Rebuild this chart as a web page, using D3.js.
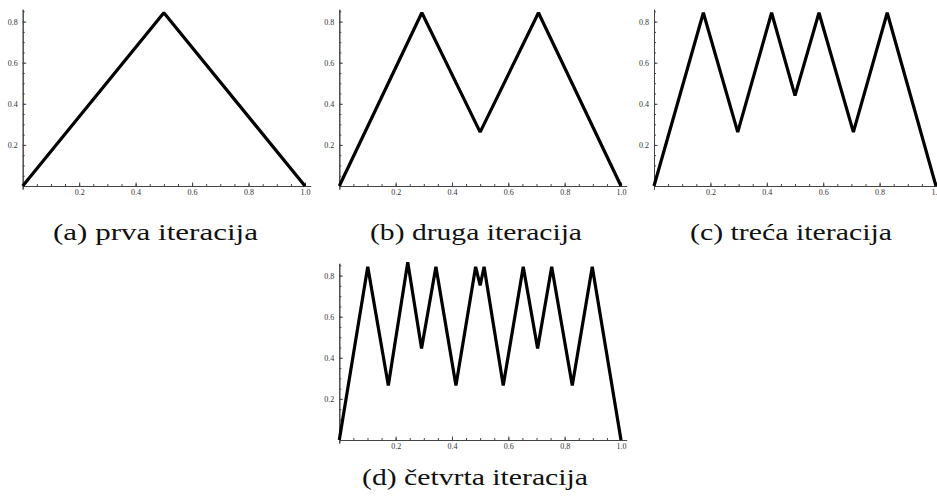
<!DOCTYPE html>
<html>
<head>
<meta charset="utf-8">
<script src="https://cdn.jsdelivr.net/npm/d3@7"></script>
<style>
  body { margin: 0; background: #fff; }
  .tick text { font-family: "Liberation Serif", serif; font-size: 8px; fill: #333; }
  .axis path, .axis line { stroke: #444; }
  .caption { font-family: "Liberation Serif", serif; font-size: 24px; fill: #111; }
</style>
</head>
<body>
<div id="chart"></div>
<script>
// vertices of the curve after each iteration
var iter1X = [0, 0.5, 1];
var iter1Y = [0, 0.843, 0];

var iter2X = [0, 0.293, 0.5, 0.707, 1];
var iter2Y = [0, 0.843, 0.262, 0.843, 0];

var iter3X = [0, 0.175, 0.297, 0.417, 0.5, 0.585, 0.707, 0.827, 1];
var iter3Y = [0, 0.843, 0.262, 0.843, 0.44, 0.843, 0.262, 0.843, 0];

var iter4X = [0, 0.101, 0.174, 0.243, 0.292, 0.343, 0.414, 0.484, 0.5, 0.514,
  0.582, 0.653, 0.704, 0.754, 0.827, 0.898, 1];
var iter4Y = [0, 0.843, 0.265, 0.865, 0.445, 0.843, 0.265, 0.843, 0.752, 0.843,
  0.265, 0.843, 0.445, 0.843, 0.265, 0.843, 0];

var xTicks = [0.2, 0.4, 0.6, 0.8, 1.0];
var yTicks = [0.2, 0.4, 0.6, 0.8];
var captions = ['(a) prva iteracija', '(b) druga iteracija', '(c) treća iteracija', '(d) četvrta iteracija'];

var width = 937,
  height = 504;

var svg = d3.select('#chart').append('svg')
  .attr('width', width)
  .attr('height', height);

// where each small plot sits on the page
var panels = [
  { xs: iter1X, ys: iter1Y, left: 22.7, right: 305, bottom: 186, capX: 155.5, capY: 240, capW: 205 },
  { xs: iter2X, ys: iter2Y, left: 339.3, right: 621, bottom: 186, capX: 476, capY: 240, capW: 212 },
  { xs: iter3X, ys: iter3Y, left: 654, right: 936, bottom: 186, capX: 791, capY: 240, capW: 202 },
  { xs: iter4X, ys: iter4Y, left: 339.3, right: 621, bottom: 440, capX: 475, capY: 485, capW: 226 }
];

var yUnit = 205.5;
var fmt = d3.format('.1f');

panels.forEach(function(p, i) {
  var w = p.right - p.left;
  var x = d3.scaleLinear().domain([0, 1.02]).range([p.left, p.left + 1.02 * w]);
  var y = d3.scaleLinear().domain([-0.015, 0.86]).range([p.bottom + 0.015 * yUnit, p.bottom - 0.86 * yUnit]);

  var g = svg.append('g');

  // minor ticks
  g.append('g')
    .attr('class', 'axis')
    .attr('transform', 'translate(0,' + p.bottom + ')')
    .call(d3.axisBottom(x).tickValues(d3.range(1, 21).map(function(k) { return k * 0.05; }))
      .tickSizeInner(-2).tickSizeOuter(0).tickFormat(''));

  g.append('g')
    .attr('class', 'axis')
    .attr('transform', 'translate(0,' + p.bottom + ')')
    .call(d3.axisBottom(x).tickValues(xTicks).tickFormat(fmt)
      .tickSizeInner(-3.5).tickSizeOuter(0).tickPadding(3));

  g.append('g')
    .attr('class', 'axis')
    .attr('transform', 'translate(' + p.left + ',0)')
    .call(d3.axisLeft(y).tickValues(d3.range(1, 18).map(function(k) { return k * 0.05; }))
      .tickSizeInner(-2).tickSizeOuter(0).tickFormat(''));

  g.append('g')
    .attr('class', 'axis')
    .attr('transform', 'translate(' + p.left + ',0)')
    .call(d3.axisLeft(y).tickValues(yTicks).tickFormat(fmt)
      .tickSizeInner(-3.5).tickSizeOuter(0).tickPadding(5));

  var pts = p.xs.map(function(v, k) { return [v, p.ys[k]]; });

  g.append('path')
    .datum(pts)
    .attr('fill', 'none')
    .attr('stroke', '#000')
    .attr('stroke-width', 3.2)
    .attr('stroke-linejoin', 'bevel')
    .attr('d', d3.line()
      .x(function(d) { return x(d[0]); })
      .y(function(d) { return y(d[1]); }));

  svg.append('text')
    .attr('class', 'caption')
    .attr('x', p.capX)
    .attr('y', p.capY)
    .attr('text-anchor', 'middle')
    .attr('textLength', p.capW)
    .attr('lengthAdjust', 'spacingAndGlyphs')
    .text(captions[i]);
});
</script>
</body>
</html>
